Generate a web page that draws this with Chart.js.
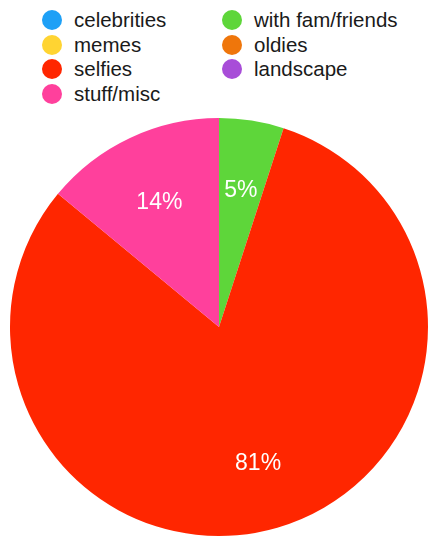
<!DOCTYPE html>
<html>
<head>
<meta charset="utf-8">
<script src="https://cdn.jsdelivr.net/npm/chart.js@4"></script>
<style>
  html, body { margin: 0; padding: 0; background: #fff; }
  #wrap { position: relative; width: 429px; height: 540px; overflow: hidden; }
  #legend {
    position: absolute; left: 42px; top: 8px;
    display: grid; grid-template-columns: 180px 180px; grid-auto-rows: 24.5px;
    font-family: 'Liberation Sans', Arial, Helvetica, sans-serif; font-size: 20.5px; color: #1a1a1a;
  }
  .item { display: flex; align-items: center; white-space: nowrap; }
  .dot { width: 20px; height: 20px; border-radius: 50%; margin-right: 12px; flex: none; }
  canvas { position: absolute; left: 0; top: 0; }
</style>
</head>
<body>
<div id="wrap">
  <div id="legend"></div>
  <canvas id="c" width="429" height="540"></canvas>
</div>
<script>
const categories = ['celebrities', 'with fam/friends', 'memes', 'oldies', 'selfies', 'landscape', 'stuff/misc'];
const shares = [0, 5, 0, 0, 81, 0, 14];
const colors = ['#1EA0F6', '#5ED63A', '#FFD432', '#EF760B', '#FF2600', '#A84DD8', '#FF409C'];

const pctLabels = {
  id: 'pctLabels',
  afterDatasetsDraw(chart) {
    const ctx = chart.ctx;
    const meta = chart.getDatasetMeta(0);
    const data = chart.data.datasets[0].data;
    const total = data.reduce((a, b) => a + b, 0);
    ctx.save();
    ctx.fillStyle = '#ffffff';
    ctx.font = '500 23px "Liberation Sans", Arial, sans-serif';
    ctx.textAlign = 'center';
    ctx.textBaseline = 'middle';
    meta.data.forEach((arc, i) => {
      if (!data[i]) return;
      const p = arc.getProps(['x', 'y', 'startAngle', 'endAngle', 'outerRadius'], true);
      const mid = (p.startAngle + p.endAngle) / 2;
      const r = p.outerRadius * 0.67;
      ctx.fillText(Math.round(data[i] / total * 100) + '%', p.x + Math.cos(mid) * r, p.y + Math.sin(mid) * r + 2);
    });
    ctx.restore();
  }
};

const htmlLegend = {
  id: 'htmlLegend',
  afterUpdate(chart) {
    const el = document.getElementById('legend');
    el.innerHTML = '';
    const items = chart.options.plugins.legend.labels.generateLabels(chart);
    items.forEach(it => {
      const d = document.createElement('div');
      d.className = 'item';
      const dot = document.createElement('span');
      dot.className = 'dot';
      dot.style.background = it.fillStyle;
      const t = document.createElement('span');
      t.textContent = it.text;
      d.appendChild(dot); d.appendChild(t);
      el.appendChild(d);
    });
  }
};

new Chart(document.getElementById('c'), {
  type: 'pie',
  data: {
    labels: categories,
    datasets: [{ data: shares, backgroundColor: colors, borderWidth: 0 }]
  },
  options: {
    responsive: false,
    animation: false,
    layout: { padding: { top: 118, bottom: 4, left: 10, right: 1 } },
    plugins: {
      legend: { display: false },
      tooltip: { enabled: false }
    }
  },
  plugins: [pctLabels, htmlLegend]
});
</script>
</body>
</html>
